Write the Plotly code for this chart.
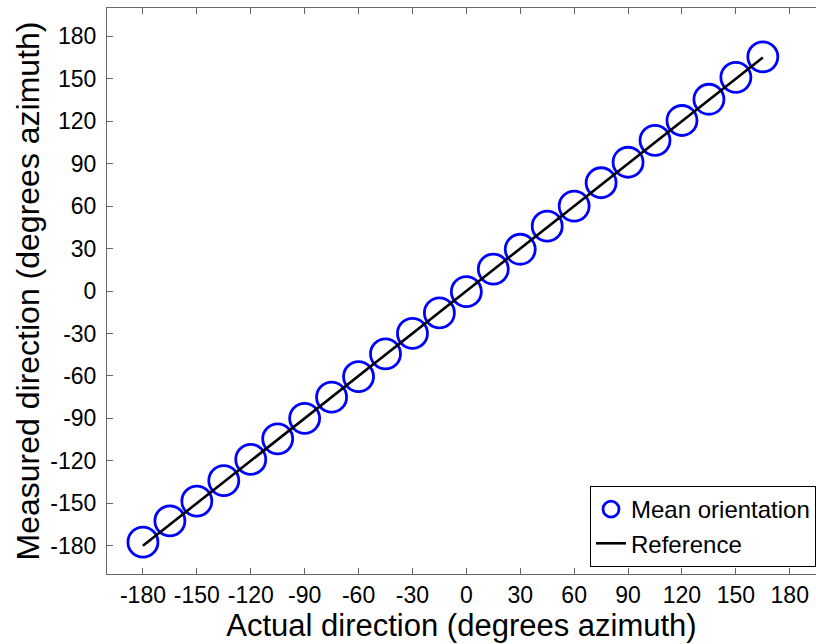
import plotly.graph_objects as go

actual = [-180, -165, -150, -135, -120, -105, -90, -75, -60, -45, -30, -15,
          0, 15, 30, 45, 60, 75, 90, 105, 120, 135, 150, 165]
measured = [-177.5, -162.5, -148.5, -134, -119, -104.5, -90, -75, -60.5, -44.5, -30, -15.5,
            -0.5, 15.5, 29.5, 45.8, 60, 76.5, 91, 106.5, 120.5, 135.5, 151, 165.5]
ref_x = [-180, 165]
ref_y = [-180, 165]
tick_vals = [-180, -150, -120, -90, -60, -30, 0, 30, 60, 90, 120, 150, 180]
tick_text = ["-180", "-150", "-120", "-90", "-60", "-30", "0", "30", "60", "90", "120", "150", "180"]

FONT = "Liberation Sans, Arial, sans-serif"
AX = "#666666"

fig = go.Figure()
fig.add_trace(go.Scatter(
    x=actual, y=measured, mode="markers", name="Mean orientation",
    marker=dict(symbol="circle-open", size=30, color="#0000FF",
                line=dict(width=2.8, color="#0000FF")),
))
fig.add_trace(go.Scatter(
    x=ref_x, y=ref_y, mode="lines", name="Reference",
    line=dict(color="black", width=2.6),
))

axis_common = dict(
    tickvals=tick_vals, ticktext=tick_text, ticks="inside", ticklen=6, tickwidth=1, tickcolor=AX,
    showline=True, linecolor=AX, linewidth=1,
    showgrid=False, zeroline=False,
    tickfont=dict(family=FONT, size=23, color="black"),
)

fig.update_layout(
    width=816, height=644,
    margin=dict(l=107, r=0, t=8, b=70),
    paper_bgcolor="white", plot_bgcolor="white",
    font=dict(family=FONT, color="black"),
    xaxis=dict(range=[-200, 194.6], mirror="ticks",
               title=dict(text="Actual direction (degrees azimuth)",
                          font=dict(family=FONT, size=31, color="black"), standoff=5),
               ticklabelstandoff=0,
               **axis_common),
    yaxis=dict(range=[-200, 200], mirror=False,
               title=dict(text="Measured direction (degrees azimuth)",
                          font=dict(family=FONT, size=32, color="black"), standoff=1),
               ticklabelstandoff=5,
               **axis_common),
    legend=dict(x=1, xanchor="right", y=0.0124, yanchor="bottom",
                bgcolor="white", bordercolor="black", borderwidth=1,
                font=dict(family=FONT, size=24, color="black"),
                itemsizing="trace", tracegroupgap=0),
    showlegend=True,
)

fig.write_html("out.html")
